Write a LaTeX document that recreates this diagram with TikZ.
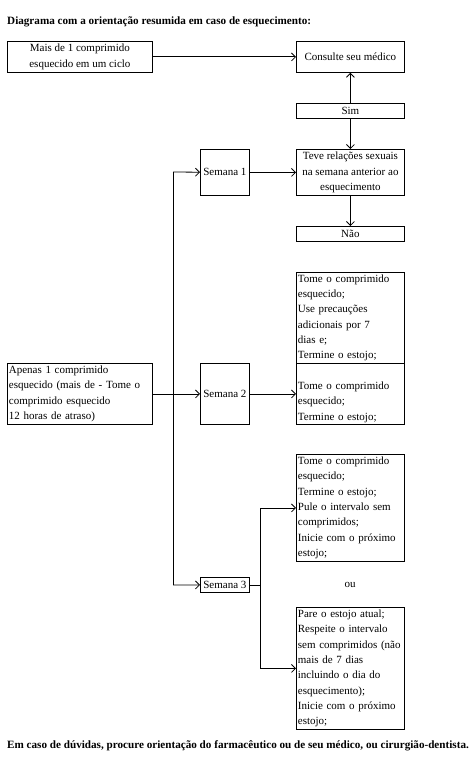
\documentclass[tikz,border=0pt]{standalone}
\usepackage{fontspec}
\setmainfont{Liberation Serif}
\usetikzlibrary{arrows.meta}
\newcommand{\fsz}{\fontsize{11}{15.3}\selectfont}
\begin{document}
\begin{tikzpicture}[x=1pt,y=-1pt,
  box/.style={draw, line width=0.8pt, inner sep=1.5pt, anchor=north west, font=\fsz},
  cbox/.style={box, align=center},
  lbox/.style={box, align=left, text width=#1},
  arr/.style={line width=0.8pt, -{Straight Barb[length=4pt,width=8pt]}},
  ln/.style={line width=0.8pt},
  hd/.style={anchor=west, font=\fontsize{11.15}{13}\selectfont\bfseries, inner sep=0pt}]
\useasboundingbox (0,0) rectangle (473,768);
\node[hd] (title) at (7,22) {Diagrama com a orientação resumida em caso de esquecimento:};
\node[hd] (foot) at (7,746) {Em caso de dúvidas, procure orientação do farmacêutico ou de seu médico, ou cirurgião-dentista.};

\node[cbox, minimum width=145pt, minimum height=31pt] (mais) at (7,41) {Mais de 1 comprimido\\esquecido em um ciclo};
\node[cbox, minimum width=108pt, minimum height=31pt] (cons) at (296,41) {Consulte seu médico};
\node[cbox, minimum width=108pt, minimum height=15pt] (sim) at (296,103) {Sim};
\node[cbox, minimum width=108pt, minimum height=46pt] (teve) at (296,149) {Teve relações sexuais\\na semana anterior ao\\esquecimento};
\node[cbox, minimum width=49pt, minimum height=46pt] (s1) at (200,149) {Semana 1};
\node[cbox, minimum width=108pt, minimum height=15pt] (nao) at (296,226) {Não};

\node[lbox=105pt, minimum width=108pt, minimum height=91pt] (w2a) at (296,272) {Tome o comprimido\\esquecido;\\Use precauções\\adicionais por 7\\dias e;\\Termine o estojo;};
\node[lbox=105pt, minimum width=108pt, minimum height=61pt] (w2b) at (296,363) {\rule{0pt}{24pt}Tome o comprimido\\esquecido;\\Termine o estojo;};
\node[lbox=142pt, minimum width=145pt, minimum height=61pt] (apenas) at (7,363) {Apenas 1 comprimido\\esquecido (mais de - Tome o\\comprimido esquecido\\12 horas de atraso)};
\node[cbox, minimum width=49pt, minimum height=61pt] (s2) at (200,363) {Semana 2};

\node[lbox=105pt, minimum width=108pt, minimum height=107pt] (w3a) at (296,454) {Tome o comprimido\\esquecido;\\Termine o estojo;\\Pule o intervalo sem\\comprimidos;\\Inicie com o próximo\\estojo;};
\node[cbox, minimum width=49pt, minimum height=15pt, inner sep=0.5pt] (s3) at (200,577) {Semana 3};
\node[font=\fsz] (ou) at (350,585) {ou};
\node[lbox=105pt, minimum width=108pt, minimum height=122pt] (w3b) at (296,607) {Pare o estojo atual;\\Respeite o intervalo\\sem comprimidos (não\\mais de 7 dias\\incluindo o dia do\\esquecimento);\\Inicie com o próximo\\estojo;};

\coordinate (sp1) at (173,172);
\coordinate (sp3) at (173,585);

\draw[arr] (mais) -- (cons);
\draw[arr] (sim) -- (cons);
\draw[arr] (sim) -- (teve);
\draw[arr] (s1) -- (teve);
\draw[arr] (teve) -- (nao);
\draw[ln] (sp1) -- (sp3);
\draw[arr] (sp1) -- (s1);
\draw[arr] (sp3) -- (s3);
\draw[arr] (apenas.east |- s2.west) -- (s2.west);
\draw[arr] (s2.east) -- (w2b.west |- s2.east);
\draw[arr] (s3.east) -- ++(11,0) |- (w3a.west);
\draw[arr] (s3.east) -- ++(11,0) |- (w3b.west);
\end{tikzpicture}
\end{document}
